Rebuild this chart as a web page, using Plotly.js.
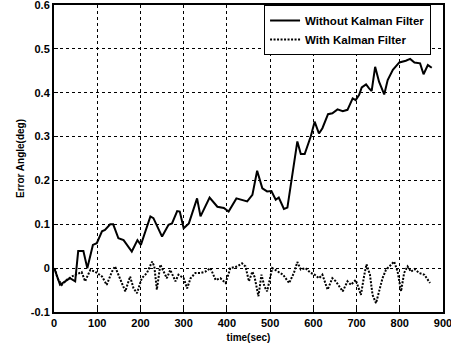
<!DOCTYPE html>
<html>
<head>
<meta charset="utf-8">
<script src="https://cdn.plot.ly/plotly-3.0.1.min.js"></script>
<style>
  html, body { margin: 0; padding: 0; background: #fff; }
  #chart { width: 451px; height: 351px; }
</style>
</head>
<body>
<div id="chart"></div>
<script>
// Error angle without filtering (solid)
const timeRaw = [0, 2, 14, 26, 37, 49, 56, 68, 77, 90, 99, 111, 118, 130, 137, 149, 161, 180, 193, 201,
  223, 230, 250, 265, 273, 285, 291, 300, 312, 331, 339, 360, 378, 393, 404, 422, 439, 447, 459, 470,
  482, 493, 503, 513, 520, 532, 540, 552, 563, 571, 580, 594, 603, 613, 621, 634, 644, 656, 668, 679,
  691, 698, 706, 712, 722, 729, 735, 743, 752, 764, 772, 784, 799, 814, 824, 834, 847, 855, 865, 874];
const errRaw = [0.0, -0.004, -0.038, -0.03, -0.023, -0.03, 0.039, 0.039, 0.0, 0.053, 0.057, 0.084, 0.087, 0.1, 0.1, 0.068, 0.064, 0.038, 0.064, 0.053,
  0.118, 0.114, 0.072, 0.099, 0.102, 0.13, 0.129, 0.091, 0.102, 0.159, 0.118, 0.161, 0.14, 0.137, 0.129, 0.159, 0.153, 0.152, 0.167, 0.222,
  0.182, 0.175, 0.176, 0.156, 0.161, 0.135, 0.138, 0.22, 0.289, 0.26, 0.26, 0.3, 0.334, 0.307, 0.319, 0.351, 0.353, 0.362, 0.358, 0.361,
  0.387, 0.383, 0.395, 0.412, 0.419, 0.41, 0.404, 0.459, 0.425, 0.396, 0.429, 0.452, 0.469, 0.473, 0.477, 0.469, 0.467, 0.442, 0.463, 0.457];

// Error angle with the Kalman filter (dotted)
const timeKf = [2, 8, 18, 29, 41, 53, 64, 72, 84, 95, 111, 122, 134, 141, 153, 165, 176, 184, 192, 203,
  215, 227, 232, 238, 246, 254, 261, 269, 281, 288, 300, 308, 316, 327, 339, 350, 362, 374, 385, 397,
  408, 424, 435, 443, 451, 459, 464, 473, 480, 487, 493, 505, 517, 530, 544, 555, 563, 571, 582, 594,
  602, 613, 621, 633, 644, 652, 668, 679, 687, 698, 705, 710, 718, 723, 731, 737, 745, 752, 760, 768,
  777, 787, 795, 803, 810, 818, 826, 834, 845, 857, 870];
const errKf = [0.0, -0.023, -0.038, -0.027, -0.019, -0.014, -0.009, -0.03, -0.004, -0.008, -0.019, -0.038, -0.008, 0.004, -0.023, -0.053, -0.019, -0.046, -0.057, -0.023,
  -0.011, 0.015, 0.004, -0.049, 0.008, -0.008, -0.023, -0.004, -0.03, -0.015, -0.023, -0.046, -0.023, -0.011, -0.011, -0.008, 0.0, -0.027, -0.023, -0.034,
  0.0, 0.004, 0.011, 0.004, -0.03, -0.008, -0.02, -0.064, -0.015, -0.042, -0.053, 0.0, -0.008, -0.015, -0.034, -0.011, 0.014, -0.003, 0.0, -0.011,
  -0.014, -0.023, -0.015, -0.049, -0.023, -0.03, -0.053, -0.03, -0.038, -0.027, -0.046, -0.061, -0.015, 0.009, -0.015, -0.061, -0.08, -0.053, -0.023, -0.004,
  0.004, 0.015, -0.008, -0.053, -0.011, 0.004, -0.008, -0.002, -0.011, -0.015, -0.034];

const seriesNames = ['Without Kalman Filter', 'With Kalman Filter'];
const xTicks = [0, 100, 200, 300, 400, 500, 600, 700, 800, 900];
const yTicks = [-0.1, 0, 0.1, 0.2, 0.3, 0.4, 0.5, 0.6];
const yTickText = ['-0.1', '0', '0.1', '0.2', '0.3', '0.4', '0.5', '0.6'];

const FONT = 'Liberation Sans, Arial, sans-serif';

const traces = [
  {
    x: timeRaw, y: errRaw, name: seriesNames[0], type: 'scatter', mode: 'lines',
    line: { color: '#000', width: 2 }
  },
  {
    x: timeKf, y: errKf, name: seriesNames[1], type: 'scatter', mode: 'lines',
    line: { color: '#000', width: 2, dash: '2px,1.5px' }
  }
];

const axisCommon = {
  showline: true, linecolor: '#000', linewidth: 2, mirror: true,
  ticks: 'inside', ticklen: 4, tickcolor: '#000', tickwidth: 1,
  showgrid: true, gridcolor: '#000', gridwidth: 1, griddash: 'dot',
  zeroline: false, ticklabeloverflow: 'allow',
  tickfont: { family: FONT, size: 11, color: '#000', weight: 'bold' }
};

const layout = {
  width: 451, height: 351,
  margin: { l: 54, r: 8, t: 5, b: 39 },
  paper_bgcolor: '#fff', plot_bgcolor: '#fff',
  font: { family: FONT, color: '#000' },
  xaxis: Object.assign({}, axisCommon, {
    range: [0, 900], tickvals: xTicks, ticktext: xTicks.map(String),
    title: { text: '<b>time(sec)</b>', font: { family: FONT, size: 10, color: '#000' }, standoff: 6 }
  }),
  yaxis: Object.assign({}, axisCommon, {
    range: [-0.1, 0.6], tickvals: yTicks, ticktext: yTickText,
    title: { text: '<b>Error Angle(deg)</b>', font: { family: FONT, size: 10, color: '#000' }, standoff: 4 }
  }),
  showlegend: true,
  legend: {
    x: 0.54, y: 1, xanchor: 'left', yanchor: 'top',
    bgcolor: '#fff', bordercolor: '#000', borderwidth: 1,
    font: { family: FONT, size: 11.5, color: '#000', weight: 'bold' },
    tracegroupgap: 0, itemwidth: 30
  }
};

Plotly.newPlot('chart', traces, layout, { displayModeBar: false, staticPlot: true });
</script>
</body>
</html>
